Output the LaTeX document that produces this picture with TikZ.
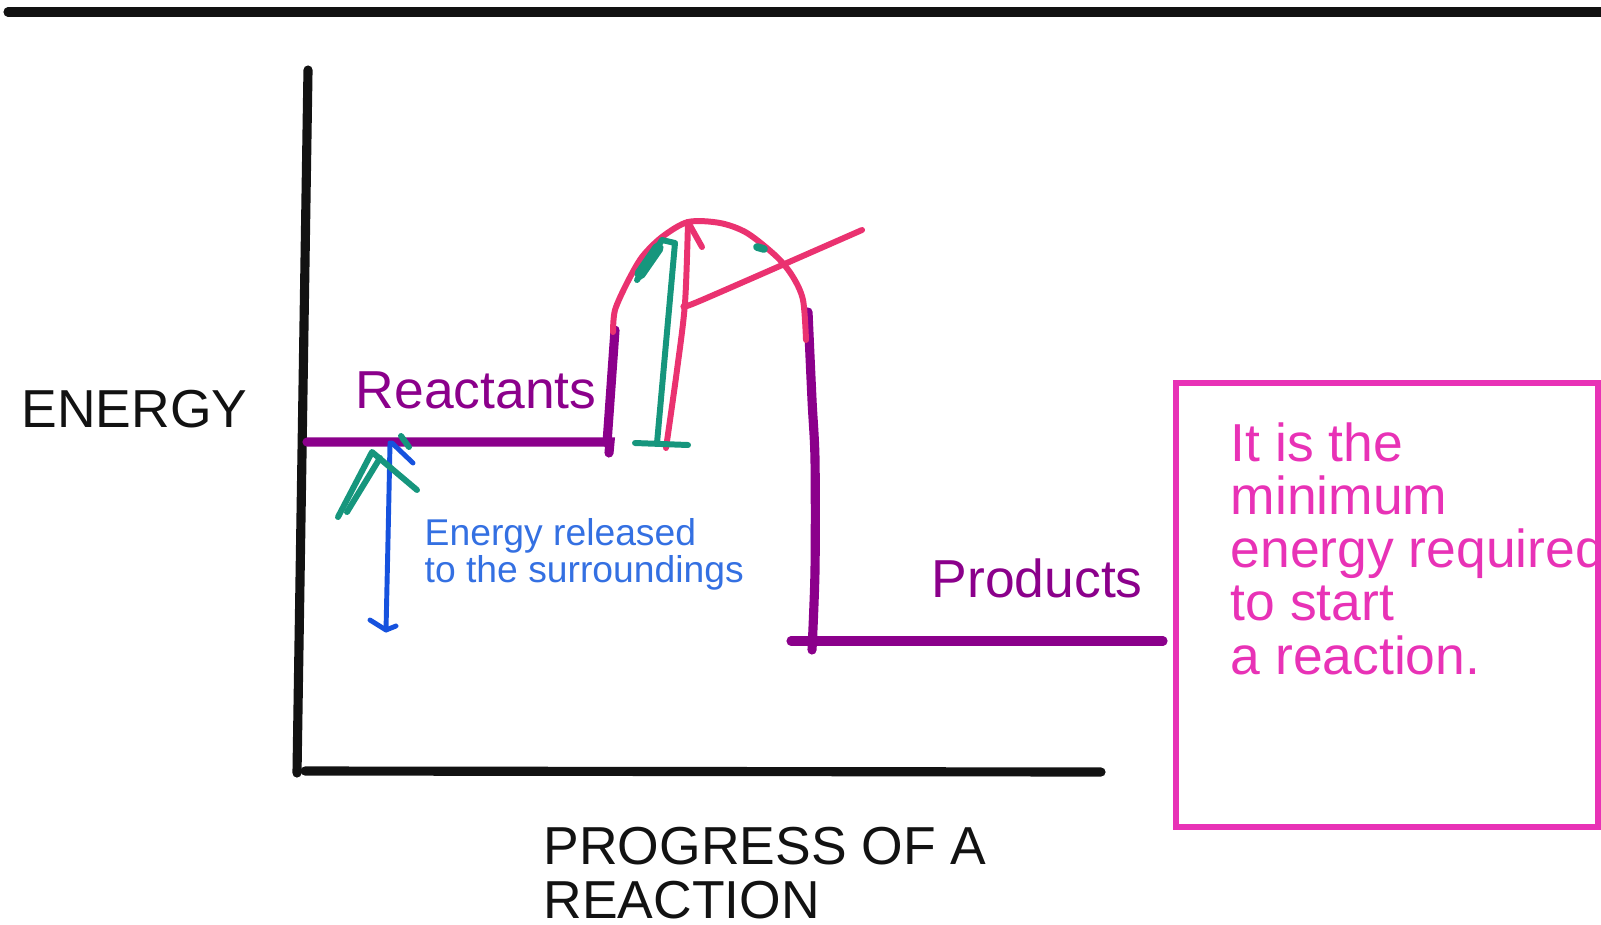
\documentclass[tikz,border=0pt]{standalone}
\usepackage{fontspec}
\setmainfont{Liberation Sans}
\usetikzlibrary{positioning}
\definecolor{levelpurple}{RGB}{139,0,139}
\definecolor{humppink}{RGB}{234,50,112}
\definecolor{sketchteal}{RGB}{22,150,125}
\definecolor{arrowblue}{RGB}{22,82,222}
\definecolor{textblue}{RGB}{52,112,226}
\definecolor{notepink}{RGB}{232,50,182}

\begin{document}
\begin{tikzpicture}[x=0.01cm,y=-0.01cm,
    axis/.style={line width=2.6pt,line cap=round,black!93},
    level/.style={line width=2.6pt,line cap=round,levelpurple},
    hump/.style={line width=1.7pt,line cap=round,line join=round,humppink},
    tealpen/.style={line width=1.7pt,line cap=round,line join=round,sketchteal},
    bluepen/.style={line width=1.4pt,line cap=round,line join=round,arrowblue},
    label/.style={inner sep=0pt,anchor=base west,align=left,
        font=\fontsize{15.2}{15.1}\selectfont}]
\useasboundingbox (0,0) rectangle (1601,924);
% Top rule
\draw[axis] (8,12) -- (1610,12);
% Axes
\draw[axis] (308,70) -- (297,773);
\draw[axis] (305,771) -- (1101,772);
% Axis labels (base = last line)
\node[label,black!93] (energy) at (21,427) {ENERGY};
\node[label,black!93] (progress) at (543,918) {PROGRESS OF A\\REACTION};
% Energy levels
\draw[level] (307,442) -- (610,442) -- (609,453);
\draw[level] (607,443) -- (615,330);
\draw[level] plot[smooth] coordinates {(808,312) (812,400) (815,460) (815,570) (812,650)};
\draw[level] (791,641) -- (1163,641);
\node[label,levelpurple] (reactants) at (355,408) {Reactants};
\node[label,levelpurple] (products) at (931,597) {Products};
% Activation hump
\draw[hump] plot[smooth] coordinates {(613,332) (615,310) (627,283) (642,257)
    (662,237) (688,222) (720,223) (747,233) (777,257) (793,277) (803,300) (806,340)};
% Activation energy arrow
\draw[hump] plot[smooth] coordinates {(666,448) (677,370) (685,303) (688,222)};
\draw[hump] (688,222) -- (702,247);
\draw[hump] plot[smooth] coordinates {(684,306) (702,300) (862,230)};
% Teal arrow
\draw[tealpen] (637,280) -- (662,240) -- (675,243) -- (657,443);
\draw[tealpen,line width=3.2pt] (640,274) -- (658,248);
\draw[tealpen] (635,443) -- (688,445);
\draw[tealpen,line width=2.2pt] (757,247) -- (764,249);
% Energy released arrow
\draw[bluepen] plot[smooth] coordinates {(390,443) (388,540) (386,630)};
\draw[bluepen] (392,443) -- (413,463);
\draw[bluepen] (370,620) -- (386,630) -- (396,626);
\draw[tealpen] (338,517) -- (372,452) -- (417,490);
\draw[tealpen] (347,512) -- (380,458);
\draw[tealpen] (401,436) -- (409,447);
\node[label,textblue,font=\fontsize{10.6}{10.3}\selectfont] (released) at (424,582)
    {Energy released\\to the surroundings};
% Note box
\draw[notepink,line width=1.8pt] (1176,383) rectangle (1598,827);
\node[label,notepink] (note) at (1230,674)
    {It is the\\minimum\\energy required\\to start\\a reaction.};
\end{tikzpicture}
\end{document}
